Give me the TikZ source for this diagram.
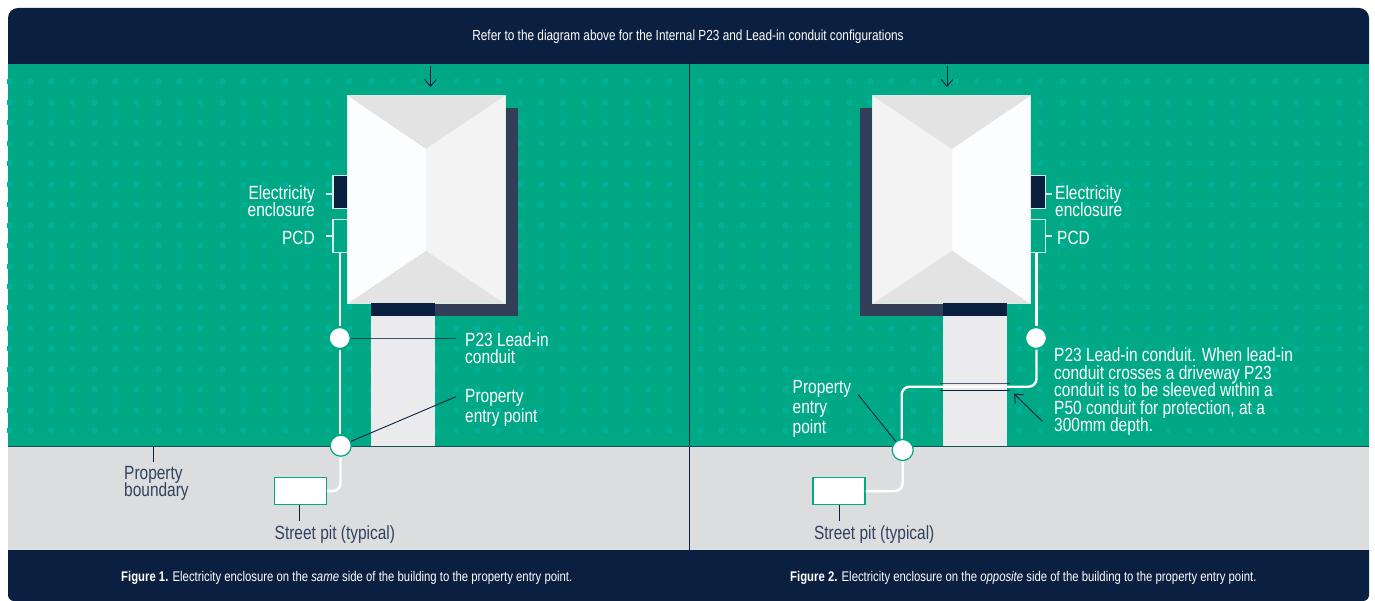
\documentclass[tikz,border=0pt]{standalone}
\usepackage{fontspec}
\usepackage{xcolor}
\usetikzlibrary{arrows.meta, positioning, calc}
\setmainfont[FakeStretch=0.81]{Liberation Sans}
\setlength{\lineskiplimit}{-10pt}
\definecolor{navy}{HTML}{0B2040}
\definecolor{shadowblue}{HTML}{333F58}
\definecolor{lawn}{HTML}{00A886}
\definecolor{lawndot}{HTML}{00B199}
\definecolor{road}{HTML}{DCDDDF}
\definecolor{drive}{HTML}{EBEBED}
\definecolor{roofgrey}{HTML}{E2E3E2}
\definecolor{roofpale}{HTML}{F2F3F2}
\definecolor{roofwhite}{HTML}{FCFDFE}
\definecolor{paleline}{HTML}{D5EFE8}
\definecolor{boundline}{HTML}{14504F}
\tikzset{
    callout/.style={font=\fontsize{19.1}{17.5}\selectfont, align=left, inner sep=0pt, text=white},
    roadlabel/.style={callout, text=navy!85!white},
    caption/.style={font=\fontsize{14}{16}\selectfont, inner sep=0pt, text=white, anchor=west},
    leader/.style={draw=navy, line width=0.9pt},
    tick/.style={draw=paleline, line width=1.2pt},
    conduit/.style={draw=white, line width=2.4pt, rounded corners=8pt},
    joint/.style={circle, fill=white, draw=lawn, line width=1.2pt, minimum size=21pt, inner sep=0pt},
    pitbox/.style={draw=lawn, fill=white, line width=1.2pt, minimum width=52pt, minimum height=27pt, inner sep=0pt},
    metre/.style={draw=paleline, line width=1.2pt, minimum width=14.5pt, minimum height=33pt, inner sep=0pt},
    downarrow/.style={-{Straight Barb[length=7pt, width=12pt]}, draw=navy, line width=0.9pt}
}
\begin{document}
\begin{tikzpicture}[x=1pt, y=-1pt]
    \useasboundingbox (0, 0) rectangle (1375, 601);
    \fill[white] (0, 0) rectangle (1375, 601);

    % ground
    \fill[lawn] (8, 64) rectangle (1369, 447);
    \fill[road] (8, 447) rectangle (1369, 550);
    \foreach \i in {0,...,31} {
        \foreach \j in {0,...,17} {
            \fill[lawndot] ({9+21.3*\i-2.5}, {81.5+20.55*\j-2.5}) rectangle +(5, 5);
            \fill[lawndot] ({700+21.3*\i-2.5}, {81.5+20.55*\j-2.5}) rectangle +(5, 5);
        }
    }

    % bands
    \fill[navy] (8, 64) [rounded corners=10pt] -- (8, 8) -- (1369, 8) [sharp corners] -- (1369, 64) -- cycle;
    \fill[navy] (8, 550) [rounded corners=6pt] -- (8, 601) -- (1369, 601) [sharp corners] -- (1369, 550) -- cycle;
    \node[font=\fontsize{14.6}{16}\selectfont, text=white, inner sep=0pt] (title) at (688, 36.5) {Refer to the diagram above for the Internal P23 and Lead-in conduit configurations};
    \draw[draw=navy, line width=1pt] (689.5, 64) -- (689.5, 550);
    \draw[draw=boundline, line width=1.4pt] (8, 446.5) -- (1369, 446.5);

    % Figure 1 building
    \fill[shadowblue] (400, 108) rectangle (517.7, 316);
    \fill[navy] (371, 303) rectangle (435, 316);
    \fill[drive] (371, 316) rectangle (435, 446);
    \fill[roofwhite] (347.7, 95.7) rectangle (505.3, 303);
    \fill[roofgrey] (347.7, 95.7) -- (505.3, 95.7) -- (426.3, 149) -- cycle;
    \fill[roofgrey] (347.7, 303.7) -- (505.3, 303.7) -- (426.3, 250.7) -- cycle;
    \fill[roofpale] (505.3, 95.7) -- (505.3, 303.7) -- (426.3, 250.7) -- (426.3, 149) -- cycle;
    \draw[draw=paleline, line width=0.8pt] (347.7, 95.7) rectangle (505.3, 303.7);
    \fill[navy] (371, 303) rectangle (435, 304.5);

    % Figure 1 labels
    \coordinate (arrowtopa) at (430.5, 66);
    \coordinate (arrowenda) at (430.5, 87);
    \draw[downarrow] (arrowtopa) -- (arrowenda);

    \node[metre, fill=navy] (encla) at (340.2, 192.3) {};
    \node[metre, fill=lawn] (pcda) at (340.2, 236.3) {};
    \node[callout, anchor=east, align=right] (encltexta) at (315, 201) {Electricity\\enclosure};
    \node[callout, anchor=east] (pcdtexta) at (315, 238) {PCD};
    \coordinate (encltiea) at (325.7, 194);
    \coordinate (pcdtiea) at (325.7, 236);
    \draw[tick] (encltiea) -- (encla.west |- encltiea);
    \draw[tick] (pcdtiea) -- (pcda.west |- pcdtiea);

    \node[joint] (p23a) at (339.7, 338) {};
    \node[joint] (entrya) at (340.7, 445.7) {};
    \node[pitbox] (pita) at (300.5, 491.2) {};
    \draw[conduit] (339.7, 253) -- (339.7, 326.5);
    \draw[conduit] (339.7, 349.5) -- (339.7, 434);
    \draw[conduit] (340.5, 457) -- (340.5, 491) -- (pita.east);

    \node[callout, anchor=north west] (p23texta) at (465, 332) {P23 Lead-in\\conduit};
    \node[callout, anchor=north west, font=\fontsize{19.1}{20}\selectfont] (entrytexta) at (465, 389) {Property\\entry point};
    \coordinate (p23enda) at (456, 338);
    \coordinate (entryenda) at (456, 396.7);
    \draw[leader, draw opacity=0.75] (p23a) -- (p23enda);
    \draw[leader] (entrya) -- (entryenda);

    \coordinate (boundtop) at (153.7, 447);
    \coordinate (boundend) at (153.7, 462);
    \draw[leader] (boundtop) -- (boundend);
    \node[roadlabel, anchor=north west] (boundtext) at (124, 466) {Property\\boundary};
    \coordinate (pitenda) at (299.7, 521);
    \draw[leader] (pitenda |- pita.south) -- (pitenda);
    \node[roadlabel, anchor=west] (pittexta) at (274.5, 534.5) {Street pit (typical)};

    % Figure 2 building
    \fill[shadowblue] (860, 108) rectangle (950, 316);
    \fill[navy] (943, 303) rectangle (1007, 316);
    \fill[drive] (943, 316) rectangle (1007, 446);
    \fill[roofwhite] (872.7, 95.7) rectangle (1030.3, 303);
    \fill[roofpale] (872.7, 95.7) -- (872.7, 303.7) -- (952, 250.7) -- (952, 149) -- cycle;
    \fill[roofgrey] (872.7, 95.7) -- (1030.3, 95.7) -- (952, 149) -- cycle;
    \fill[roofgrey] (872.7, 303.7) -- (1030.3, 303.7) -- (952, 250.7) -- cycle;
    \draw[draw=paleline, line width=0.8pt] (872.7, 95.7) rectangle (1030.3, 303.7);
    \fill[navy] (943, 303) rectangle (1007, 304.5);

    % Figure 2 labels
    \coordinate (arrowtopb) at (947, 66);
    \coordinate (arrowendb) at (947, 87);
    \draw[downarrow] (arrowtopb) -- (arrowendb);

    \node[metre, fill=navy] (enclb) at (1038, 192.3) {};
    \node[metre, fill=lawn] (pcdb) at (1038, 236.3) {};
    \node[callout, anchor=west] (encltextb) at (1055, 201) {Electricity\\enclosure};
    \node[callout, anchor=west] (pcdtextb) at (1057, 238) {PCD};
    \coordinate (encltieb) at (1052, 194);
    \coordinate (pcdtieb) at (1052, 236);
    \draw[tick] (encltieb) -- (enclb.east |- encltieb);
    \draw[tick] (pcdtieb) -- (pcdb.east |- pcdtieb);

    \node[joint] (p23b) at (1036, 338) {};
    \node[joint] (entryb) at (902.7, 450) {};
    \node[pitbox] (pitb) at (839, 491.2) {};
    \draw[conduit] (1036.5, 253) -- (1036.5, 326.5);
    \draw[conduit] (1036.5, 349.5) -- (1036.5, 386.7) -- (901.7, 386.7) -- (901.7, 438.5);
    \draw[conduit] (902.7, 461.5) -- (902.7, 491) -- (pitb.east);
    \coordinate (sleevea) at (940, 383);
    \coordinate (sleeveb) at (1010, 383);
    \coordinate (sleevec) at (940, 390.3);
    \coordinate (sleeved) at (1010, 390.3);
    \draw[leader, draw opacity=0.7] (sleevea) -- (sleeveb);
    \draw[leader] (sleevec) -- (sleeved);

    \node[callout, anchor=north west] (p23textb) at (1054, 347.5) {P23 Lead-in conduit. When lead-in\\conduit crosses a driveway P23\\conduit is to be sleeved within a\\P50 conduit for protection, at a\\300mm depth.};
    \coordinate (sleevetail) at (1042.3, 421.3);
    \coordinate (sleevetip) at (1014, 393.7);
    \draw[downarrow] (sleevetail) -- (sleevetip);

    \node[callout, anchor=north west, font=\fontsize{19.1}{20}\selectfont] (entrytextb) at (792.5, 380) {Property\\entry\\point};
    \coordinate (entryendb) at (858.4, 395);
    \draw[leader] (entryb) -- (entryendb);

    \coordinate (pitendb) at (839.8, 521);
    \draw[leader] (pitendb |- pitb.south) -- (pitendb);
    \node[roadlabel, anchor=west] (pittextb) at (813.8, 534.5) {Street pit (typical)};

    % captions
    \node[caption] (capa) at (121, 577.5) {\textbf{Figure 1.} Electricity enclosure on the \textit{same} side of the building to the property entry point.};
    \node[caption] (capb) at (790, 577.5) {\textbf{Figure 2.} Electricity enclosure on the \textit{opposite} side of the building to the property entry point.};
\end{tikzpicture}
\end{document}
